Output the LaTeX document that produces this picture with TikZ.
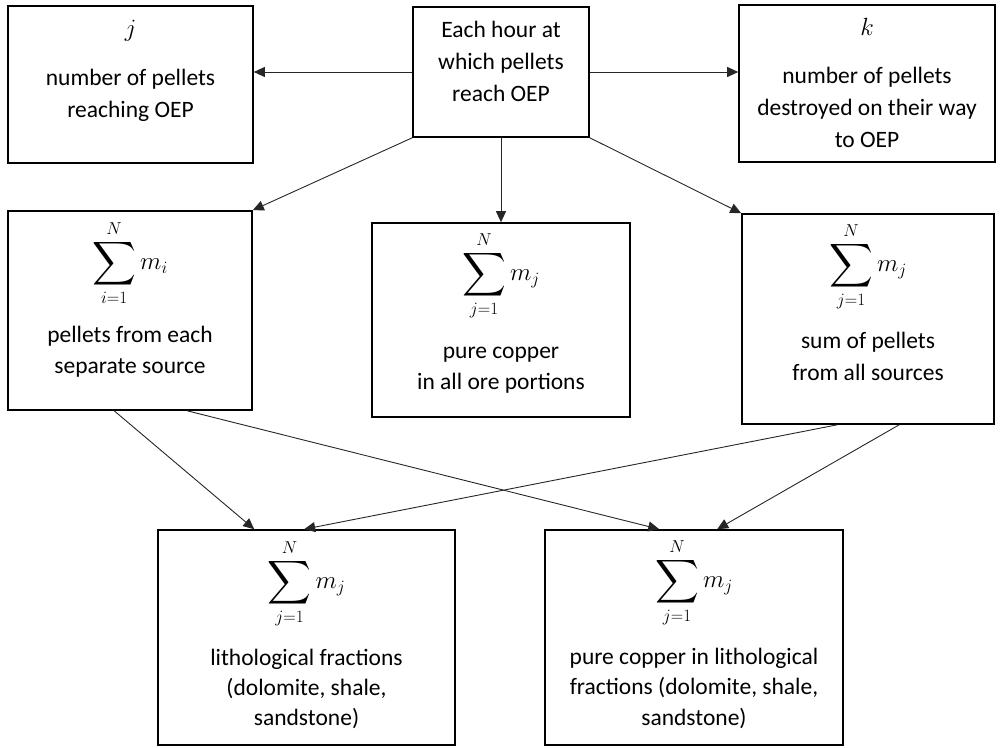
\documentclass[tikz,border=0pt]{standalone}
\usepackage{fontspec}
\setmainfont{Carlito}
\usepackage{amsmath}
\usepackage{graphicx}
\usetikzlibrary{arrows.meta,calc}
\newcommand{\blines}[1]{\begin{tabular}[t]{@{}c@{}}#1\end{tabular}}
\newcommand{\bigsum}[2]{\mathop{\vcenter{\hbox{\scalebox{1.22}{$\displaystyle\sum$}}}}\limits_{#1=1}^{N}m_{#2}}
\tikzset{
  box/.style={draw=black, line width=1.6pt, inner sep=0pt},
  txt/.style={anchor=base, inner sep=0pt, font=\fontsize{23.5}{32}\selectfont},
  mth/.style={anchor=center, inner sep=0pt, font=\fontsize{25}{32}\selectfont},
  conn/.style={draw=black!85, line width=0.9pt, -{Triangle[length=11pt,width=10pt]}}
}
\begin{document}
\begin{tikzpicture}[x=1pt,y=-1pt]
\useasboundingbox (0,0) rectangle (1000,747);
% boxes
\node[box, minimum width=245, minimum height=157] (tl) at (130.5,84.5) {};
\node[box, minimum width=176, minimum height=130] (c) at (501,72) {};
\node[box, minimum width=256, minimum height=157] (tr) at (867,83.5) {};
\node[box, minimum width=244, minimum height=199] (ml) at (130,310.5) {};
\node[box, minimum width=258, minimum height=194] (mc) at (501,320) {};
\node[box, minimum width=252, minimum height=210] (mr) at (868,319) {};
\node[box, minimum width=297, minimum height=215] (bl) at (306.5,637.5) {};
\node[box, minimum width=298, minimum height=215] (br) at (694,637.5) {};
% texts
\node[txt, font=\fontsize{24}{32}\selectfont] (tlm) at (130.5,36) {$j$};
\node[txt] (tlt) at (130.5,85) {\blines{number of pellets\\reaching OEP}};
\node[txt] (ct) at (501,37) {\blines{Each hour at\\which pellets\\reach OEP}};
\node[txt, font=\fontsize{24}{32}\selectfont] (trm) at (867,35) {$k$};
\node[txt] (trt) at (867,83) {\blines{number of pellets\\destroyed on their way\\to OEP}};
\node[mth] (mlm) at (130,263) {$\bigsum{i}{i}$};
\node[txt, font=\fontsize{23.5}{31}\selectfont] (mlt) at (130,342) {\blines{pellets from each\\separate source}};
\node[mth] (mcm) at (501,275.5) {$\bigsum{j}{j}$};
\node[txt, font=\fontsize{23.5}{31}\selectfont] (mct) at (501,358) {\blines{pure copper\\in all ore portions}};
\node[mth] (mrm) at (868,266.5) {$\bigsum{j}{j}$};
\node[txt] (mrt) at (868,348) {\blines{sum of pellets\\from all sources}};
\node[mth] (blm) at (306.5,583.5) {$\bigsum{j}{j}$};
\node[txt, font=\fontsize{23.5}{30}\selectfont] (blt) at (306.5,665) {\blines{lithological fractions\\(dolomite, shale,\\sandstone)}};
\node[mth] (brm) at (694,582.5) {$\bigsum{j}{j}$};
\node[txt, font=\fontsize{23.5}{30.5}\selectfont] (brt) at (694,664) {\blines{pure copper in lithological\\fractions (dolomite, shale,\\sandstone)}};
% connectors
\draw[conn] (c.west) -- (c.west -| tl.east);
\draw[conn] (c.east) -- (c.east -| tr.west);
\draw[conn] (c.south west) -- (ml.north east);
\draw[conn] (c.south) -- (mc.north);
\draw[conn] (c.south east) -- (mr.north west);
\draw[conn] ([xshift=107pt]ml.south west) -- ([xshift=97pt]bl.north west);
\draw[conn] ([xshift=180pt]ml.south west) -- ([xshift=115pt]br.north west);
\draw[conn] ([xshift=96pt]mr.south west) -- ([xshift=147pt]bl.north west);
\draw[conn] ([xshift=158pt]mr.south west) -- ([xshift=173pt]br.north west);
\end{tikzpicture}
\end{document}
